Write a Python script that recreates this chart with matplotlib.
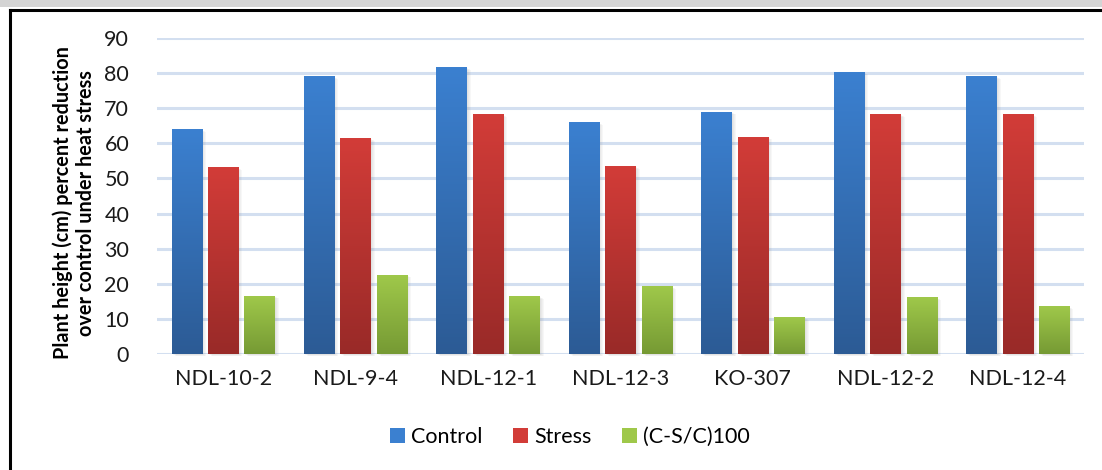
import numpy as np
import matplotlib
matplotlib.use('Agg')
import matplotlib.pyplot as plt
from matplotlib.patches import Rectangle, Patch
from matplotlib.colors import LinearSegmentedColormap

plt.rcParams['font.family'] = ['Lato', 'DejaVu Sans']

# data
genotypes = ['NDL-10-2', 'NDL-9-4', 'NDL-12-1', 'NDL-12-3', 'KO-307', 'NDL-12-2', 'NDL-12-4']
control = [63.8, 78.9, 81.5, 65.8, 68.9, 80.3, 78.9]
stress = [53.0, 61.3, 68.1, 53.3, 61.8, 68.1, 68.1]
reduction = [16.5, 22.5, 16.3, 19.1, 10.3, 16.0, 13.4]
series_names = ['Control', 'Stress', '(C-S/C)100']

# (top colour, bottom colour) of each series gradient
grads = [('#3b80d0', '#2c5b95'), ('#d23c38', '#992a28'), ('#9fc84a', '#769a34')]

fig = plt.figure(figsize=(11.02, 4.70), dpi=100)

# grey strip and frame at the top/left, as in the scanned page
fig.patches.append(Rectangle((0, 1 - 7 / 470), 1, 7 / 470, transform=fig.transFigure,
                             facecolor='#d4d4d4', edgecolor='none', zorder=0))
fig.lines.append(plt.Line2D([10 / 1102, 1], [1 - 10 / 470, 1 - 10 / 470],
                            transform=fig.transFigure, color='black', lw=2.2))
fig.lines.append(plt.Line2D([10 / 1102, 10 / 1102], [0, 1 - 10 / 470],
                            transform=fig.transFigure, color='black', lw=2.2))

ax = fig.add_axes([157 / 1102, 1 - 354 / 470, (1084 - 157) / 1102, (354 - 38) / 470])

x = np.arange(len(genotypes))
width = 0.23
step = 0.275
px_x = 1 / 132.0
px_y = 90 / 316.0

for k, vals in enumerate([control, stress, reduction]):
    top, bottom = grads[k]
    cmap = LinearSegmentedColormap.from_list('g%d' % k, [bottom, top])
    pos = x + (k - 1) * step
    bars = ax.bar(pos, vals, width, color=top, zorder=3)
    for b in bars:
        x0 = b.get_x()
        h = b.get_height()
        # soft shadow
        for s in range(1, 5):
            ax.add_patch(Rectangle((x0 + s * px_x, -s * 0.5 * px_y), width, h,
                                   facecolor='#808080', alpha=0.06, edgecolor='none',
                                   zorder=2, clip_on=False))
        grad = np.linspace(0, 1, 100).reshape(-1, 1)
        ax.imshow(grad, cmap=cmap, origin='lower', aspect='auto',
                  extent=[x0, x0 + width, 0, h], zorder=4)

ax.set_xlim(-0.5, len(genotypes) - 0.5)
ax.set_ylim(0, 90)
ax.set_yticks(range(0, 91, 10))
ax.set_xticks(x)
ax.set_xticklabels(genotypes, fontsize=15.5, color='#1a1a1a')
ax.tick_params(axis='y', labelsize=15.5, length=0, pad=20, labelcolor='#1a1a1a')
ax.tick_params(axis='x', length=0, pad=11)
for sp in ax.spines.values():
    sp.set_visible(False)
ax.set_axisbelow(True)
ax.grid(axis='y', color='#d3dff0', lw=2.2, zorder=0)
ax.set_xlim(-0.5, len(genotypes) - 0.5)

fig.text(74 / 1102, 1 - 203 / 470,
         'Plant height (cm) percent reduction\nover control under heat stress',
         rotation=90, ha='center', va='center', fontsize=14.3, fontweight='bold',
         linespacing=1.2)

handles = [Patch(facecolor=grads[i][0], edgecolor='none') for i in range(3)]
fig.legend(handles, series_names, loc='center', bbox_to_anchor=(0.517, 1 - 437 / 470),
           ncol=3, frameon=False, fontsize=15.5, handlelength=0.7, handleheight=0.7,
           handletextpad=0.3, columnspacing=1.4)

fig.savefig('out.png', dpi=100)
